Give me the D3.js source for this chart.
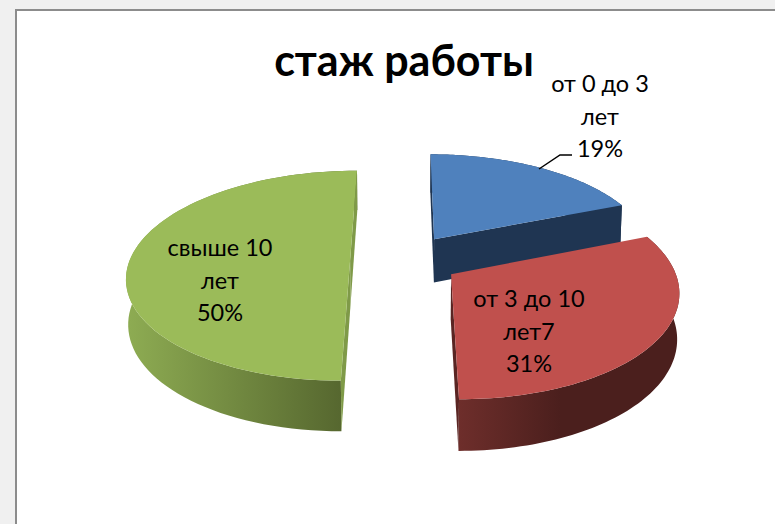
<!DOCTYPE html>
<html>
<head>
<meta charset="utf-8">
<script src="https://cdn.jsdelivr.net/npm/d3@7"></script>
<style>
  html, body { margin: 0; padding: 0; background: #f0f0f0; overflow: hidden; }
  text { font-family: Lato, "Open Sans", sans-serif; fill: #000; }
</style>
</head>
<body>
<script>
var title = "стаж работы";
var categories = ["от 0 до 3 лет", "от 3 до 10 лет7", "свыше 10 лет"];
var values = [19, 31, 50];
var percents = ["19%", "31%", "50%"];
var labelLines = [["от 0 до 3", "лет"], ["от 3 до 10", "лет7"], ["свыше 10", "лет"]];

var topColors = ["#4f81bd", "#c0504d", "#9bbb59"];
var faceColors = ["#1f3552", "#5a2523", "#7f9a48"];
var sideStops = [["#1f3552", "#1f3552"], ["#6e2e2b", "#4b1f1d"], ["#8dab52", "#56672f"]];
var sideRange = [[430, 620], [458, 560], [130, 342]];

// explode offset of every slice on the pie plane (radius = 1)
var offsets = [[0.136, -0.352], [0.205, -0.008], [-0.249, -0.138]];
var labelPos = [[600, 92], [529, 307], [220, 256]];

var width = 775, height = 524;

var svg = d3.select("body").append("svg")
  .attr("width", width)
  .attr("height", height)
  .style("display", "block");

//Rahmen
svg.append("rect")
  .attr("x", 16).attr("y", 10)
  .attr("width", width).attr("height", height)
  .attr("fill", "#fff")
  .attr("stroke", "#8c8c8c")
  .attr("stroke-width", 2);

//Perspektive: (X, Y) auf der Ebene, z = 0 oben, z = 1 unten
var cam = {x0: 405, y0: 275, a: 225, b: 107, p: 0.147, c: 45.5, q: 0.008};
function project(X, Y, z) {
  var d = 1 - cam.p * Y + cam.q * z;
  return [cam.x0 + cam.a * X / d, cam.y0 + (cam.b * Y + cam.c * z) / d];
}

var pie = d3.pie().sort(null);
var slices = pie(values);
var line = d3.line();

function rim(s, i, z) {
  var n = 80, o = offsets[i];
  return d3.range(n + 1).map(function(k) {
    var t = s.startAngle + (s.endAngle - s.startAngle) * k / n;
    return project(o[0] + Math.sin(t), o[1] - Math.cos(t), z);
  });
}
function edge(s, i, angle) {
  var o = offsets[i];
  return [project(o[0], o[1], 0), project(o[0] + Math.sin(angle), o[1] - Math.cos(angle), 0),
          project(o[0] + Math.sin(angle), o[1] - Math.cos(angle), 1), project(o[0], o[1], 1)];
}
// Außenwand als Vierecke, damit auch die Silhouette gefüllt ist
function wall(s, i) {
  var up = rim(s, i, 0), down = rim(s, i, 1);
  return d3.range(up.length - 1).map(function(k) {
    return line([up[k], up[k + 1], down[k + 1], down[k]]) + "Z";
  }).join("");
}

var defs = svg.append("defs");
sideStops.forEach(function(c, i) {
  var g = defs.append("linearGradient")
    .attr("id", "side" + i)
    .attr("gradientUnits", "userSpaceOnUse")
    .attr("x1", sideRange[i][0]).attr("x2", sideRange[i][1])
    .attr("y1", 0).attr("y2", 0);
  g.append("stop").attr("offset", 0).attr("stop-color", c[0]);
  g.append("stop").attr("offset", 1).attr("stop-color", c[1]);
});

//Reihenfolge: blau hinten, dann grün, rot vorne
[0, 2, 1].forEach(function(i) {
  var s = slices[i];
  var g = svg.append("g").attr("class", "slice");

  g.append("path")
    .attr("d", wall(s, i))
    .attr("fill", "url(#side" + i + ")");

  // sichtbare Schnittflächen
  var faces = i === 1 ? [s.endAngle] : [s.startAngle, s.endAngle];
  faces.forEach(function(angle) {
    g.append("path")
      .attr("d", line(edge(s, i, angle)) + "Z")
      .attr("fill", faceColors[i]);
  });

  var o = offsets[i];
  g.append("path")
    .attr("d", line([project(o[0], o[1], 0)].concat(rim(s, i, 0))) + "Z")
    .attr("fill", topColors[i]);
});

//Titel
svg.append("text")
  .attr("x", 404).attr("y", 76)
  .attr("text-anchor", "middle")
  .attr("font-size", 43)
  .attr("font-weight", 700)
  .text(title);

//Beschriftung
var labels = svg.selectAll("text.label")
  .data(categories)
  .enter()
  .append("text")
  .attr("class", "label")
  .attr("text-anchor", "middle")
  .attr("font-size", 23.5)
  .attr("y", function(d, i) { return labelPos[i][1]; });

labels.each(function(d, i) {
  var rows = labelLines[i].concat([percents[i]]);
  d3.select(this).selectAll("tspan")
    .data(rows)
    .enter()
    .append("tspan")
    .attr("x", labelPos[i][0])
    .attr("dy", function(r, k) { return k === 0 ? 0 : 32.5; })
    .text(function(r) { return r; });
});

//Führungslinie
svg.append("path")
  .attr("d", line([[539, 169], [560, 155], [572, 155]]))
  .attr("fill", "none")
  .attr("stroke", "#000")
  .attr("stroke-width", 1.5);
</script>
</body>
</html>
